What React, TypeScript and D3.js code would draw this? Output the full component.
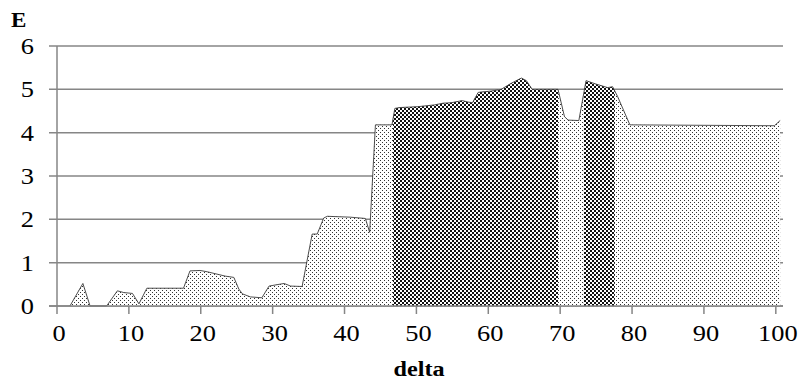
import React from "react";
import * as d3 from "d3";

const deltas = [1.8, 3.6, 4.6, 6.9, 8.4, 9.3, 10.5, 11.4, 12.5, 17.6, 18.5, 19.9, 20.9, 23.4, 24.6, 25.3, 25.8, 26.9, 28.5, 29.5, 31.6, 32.5, 34.1, 35.5, 36.2, 37.1, 37.6, 40.8, 42.9, 43.5, 44.3, 46.6, 47.0, 47.7, 50.2, 52.5, 53.7, 54.8, 56.4, 57.1, 57.8, 58.6, 60.4, 61.8, 63.2, 64.6, 65.3, 66.1, 69.7, 70.6, 71.1, 72.6, 73.6, 75.0, 76.6, 77.3, 78.0, 79.7, 99.8, 100.6];
const energies = [0, 0.52, 0, 0, 0.35, 0.31, 0.29, 0.05, 0.41, 0.41, 0.81, 0.82, 0.79, 0.69, 0.66, 0.39, 0.28, 0.21, 0.19, 0.46, 0.52, 0.46, 0.45, 1.66, 1.66, 2.03, 2.07, 2.05, 2.02, 1.7, 4.18, 4.18, 4.56, 4.58, 4.6, 4.64, 4.68, 4.69, 4.74, 4.71, 4.69, 4.93, 4.96, 5.0, 5.14, 5.26, 5.2, 5.0, 5.0, 4.37, 4.29, 4.28, 5.2, 5.12, 5.04, 5.06, 4.83, 4.18, 4.16, 4.28];
const darkStarts = [46.75, 73.3];
const darkEnds = [69.7, 77.6];
const xTicks = [0, 10, 20, 30, 40, 50, 60, 70, 80, 90, 100];
const yTicks = [0, 1, 2, 3, 4, 5, 6];

const W = 802, H = 383;
const x = d3.scaleLinear().domain([0, 101]).range([57, 783]);
const y = d3.scaleLinear().domain([0, 6]).range([306, 46]);
const SX = 1.1;
const FS = 24;

function T(props: { x: number; y: number; anchor?: string; bold?: boolean; size?: number; children: React.ReactNode }) {
  return (
    <text
      transform={`translate(${props.x},${props.y}) scale(${SX},1)`}
      textAnchor={props.anchor || "start"}
      fontSize={props.size || FS}
      fontWeight={props.bold ? "bold" : "normal"}
      fill="#000"
      style={{ fontFamily: '"Liberation Serif", "Times New Roman", serif' }}
    >
      {props.children}
    </text>
  );
}

export default function App() {
  const pts = deltas.map((d, i) => ({ d, e: energies[i] }));
  const area = d3.area<{ d: number; e: number }>().x(p => x(p.d)).y0(y(0)).y1(p => y(p.e));
  const line = d3.line<{ d: number; e: number }>().x(p => x(p.d)).y(p => y(p.e));
  const areaPath = area(pts) || "";
  const linePath = line(pts) || "";
  const gridColor = "#868686";
  return (
    <svg width={W} height={H} style={{ position: "absolute", left: 0, top: 0, background: "#fff" }}>
      <defs>
        <pattern id="dots" width={4} height={4} patternUnits="userSpaceOnUse">
          <rect width={4} height={4} fill="#fff" />
          <rect x={0} y={0} width={1} height={1} fill="#333" />
          <rect x={2} y={2} width={1} height={1} fill="#333" />
        </pattern>
        <pattern id="checks" width={4} height={4} patternUnits="userSpaceOnUse">
          <rect width={4} height={4} fill="#fff" />
          <rect x={0} y={0} width={2} height={2} fill="#111" />
          <rect x={2} y={2} width={2} height={2} fill="#111" />
        </pattern>
        <clipPath id="darkClip">
          {darkStarts.map((s, i) => (
            <rect key={i} x={x(s)} y={0} width={x(darkEnds[i]) - x(s)} height={H} />
          ))}
        </clipPath>
      </defs>
      {yTicks.map(t => (
        <line key={"g" + t} x1={49} x2={783} y1={y(t)} y2={y(t)} stroke={gridColor} strokeWidth={1.5} />
      ))}
      <path d={areaPath} fill="url(#dots)" />
      <path d={areaPath} fill="url(#checks)" clipPath="url(#darkClip)" />
      <path d={linePath} fill="none" stroke="#3a3a3a" strokeWidth={0.9} />
      <line x1={57} x2={57} y1={46} y2={306} stroke={gridColor} strokeWidth={1.5} />
      <line x1={49} x2={783} y1={306} y2={306} stroke={gridColor} strokeWidth={1.5} />
      {xTicks.map(t => (
        <line key={"xt" + t} x1={x(t)} x2={x(t)} y1={306} y2={314} stroke={gridColor} strokeWidth={1.5} />
      ))}
      {xTicks.map(t => (
        <T key={"xl" + t} x={x(t) + 2} y={341} anchor="middle">{t}</T>
      ))}
      {yTicks.map(t => (
        <T key={"yl" + t} x={34} y={y(t) + 8} anchor="end">{t}</T>
      ))}
      <T x={11} y={27} bold size={21}>E</T>
      <T x={419} y={376} anchor="middle" bold size={22}>delta</T>
    </svg>
  );
}
